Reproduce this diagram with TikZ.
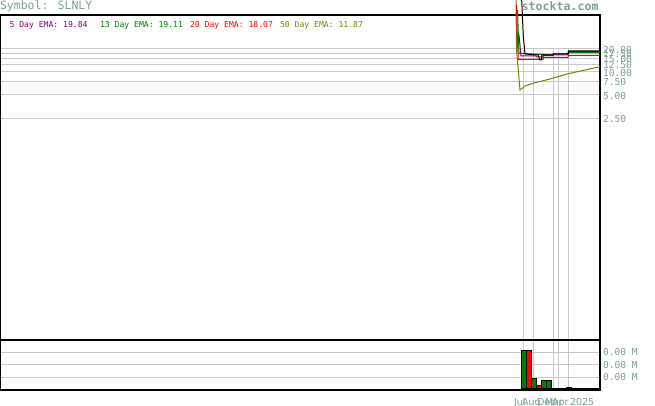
\documentclass[tikz,border=0pt]{standalone}
\usepackage{fontspec}
\newfontfamily\monof{DejaVu Sans Mono}
\newfontfamily\sansf{DejaVu Sans}
\definecolor{axisgray}{RGB}{128,160,144}
\definecolor{gridgray}{RGB}{200,200,200}
\definecolor{emapurple}{RGB}{128,0,128}
\definecolor{emagreen}{RGB}{0,128,0}
\definecolor{emared}{RGB}{255,0,0}
\definecolor{emaolive}{RGB}{128,128,0}
\tikzset{
  gridline/.style={draw=gridgray, line width=1pt},
  framebox/.style={draw=black, line width=1.2pt},
  txt/.style={anchor=base west, inner sep=0pt, outer sep=0pt},
  axislbl/.style={txt, text=axisgray, font=\monof\fontsize{9.6}{10}\selectfont},
  datelbl/.style={txt, text=axisgray, font=\sansf\fontsize{9.5}{10}\selectfont},
  legendlbl/.style={txt, font=\monof\fontsize{8.1}{9}\selectfont},
  series/.style={line width=1pt, line join=miter},
  gbar/.style={fill=emagreen, draw=black, line width=0.8pt},
  rbar/.style={fill=emared, draw=black, line width=0.8pt},
}
\begin{document}
\begin{tikzpicture}[x=1pt, y=-1pt]
\useasboundingbox (0,0) rectangle (655,406);
\fill[white] (0,0) rectangle (655,406);
% horizontal grid, price pane
\foreach \yy in {49,53.4,58.5,64.6,72,81.5,95,118.3}
  \draw[gridline] (0.5,\yy) -- (600,\yy);
% vertical grid
\foreach \xx in {523.3,533.3,553.3,558.3,568.3}{
  \draw[gridline] (\xx,49) -- (\xx,340);
  \draw[gridline] (\xx,340) -- (\xx,390);
}
% horizontal grid, volume pane
\foreach \yy in {352.3,364.7,377.3}
  \draw[gridline] (0.5,\yy) -- (600,\yy);
% volume bars
\draw[gbar] (521,390) rectangle (526,350);
\draw[rbar] (526,390) rectangle (531,350);
\draw[gbar] (531,390) rectangle (536,378.3);
\draw[rbar] (536,390) rectangle (541,385);
\draw[gbar] (541,390) rectangle (546,380);
\draw[gbar] (546,390) rectangle (551,380);
\draw[gbar] (551,390) rectangle (556,388.3);
\draw[gbar] (566,390) rectangle (571,387.3);
\draw[black, line width=2pt] (521,389.3) -- (600,389.3);
% frames
\draw[framebox] (0.6,15) -- (600,15) -- (600,390) -- (0.6,390) -- cycle;
\draw[framebox] (0.6,340) -- (600,340);
% EMA series
\draw[series, emaolive] (516,0) -- (516.5,50) -- (517,55) -- (520,90) -- (525,86) -- (533,83.3) -- (550,79) -- (567,74) -- (600,66.7);
\draw[series, emared] (516.5,5) -- (517.5,43) -- (518.3,59.5) -- (543,59.3) -- (543.5,57.3) -- (568,57.3) -- (568.5,55.3) -- (600,55.3);
\draw[series, emagreen] (517.5,10) -- (519,53.3) -- (553,55) -- (553.5,54) -- (568,54) -- (568.5,52.7) -- (600,52.7);
\draw[series, emapurple] (519,35) -- (521,56) -- (536,56) -- (536.5,57) -- (543,57) -- (543.5,55.7) -- (553,55.7) -- (553.5,55) -- (568,55) -- (568.5,51.7) -- (600,51.7);
\draw[series, black] (521.7,0) -- (523.3,36.7) -- (525,54) -- (538,55) -- (540,60) -- (541.5,60) -- (542,55) -- (553,55) -- (553.5,54) -- (568,54) -- (568.5,51) -- (600,51);
% texts
\node[txt, text=axisgray, font=\monof\fontsize{11.5}{12}\selectfont] (title) at (0,9.5) {Symbol: SLNLY};
\node[txt, text=axisgray, font=\monof\bfseries\fontsize{11.6}{12}\selectfont] (brand) at (521.7,10.5) {stockta.com};
\node[legendlbl, text=emapurple] (l5) at (9.5,27.3) {5 Day EMA: 19.84};
\node[legendlbl, text=emagreen] (l13) at (100,27.3) {13 Day EMA: 19.11};
\node[legendlbl, text=emared] (l20) at (190,27.3) {20 Day EMA: 18.07};
\node[legendlbl, text=emaolive] (l50) at (280,27.3) {50 Day EMA: 11.87};
% price axis labels
\node[axislbl] (p20) at (603,53.2) {20.00};
\node[axislbl] (p175) at (603,57.6) {17.50};
\node[axislbl] (p15) at (603,62.7) {15.00};
\node[axislbl] (p125) at (603,68.8) {12.50};
\node[axislbl] (p10) at (603,76.2) {10.00};
\node[axislbl] (p75) at (603,85.7) {7.50};
\node[axislbl] (p5) at (603,99.2) {5.00};
\node[axislbl] (p25) at (603,122.5) {2.50};
% volume axis labels
\node[axislbl] (v1) at (603,355.8) {0.00 M};
\node[axislbl] (v2) at (603,368.2) {0.00 M};
\node[axislbl] (v3) at (603,380.8) {0.00 M};
% date labels
\node[datelbl] (dJul) at (514,405) {Jul};
\node[datelbl] (dAug) at (522,405) {Aug};
\node[datelbl] (dDec) at (537,405) {Dec};
\node[datelbl] (dMar) at (545,405) {Mar};
\node[datelbl] (dApr) at (552,405) {Apr};
\node[datelbl] (d2025) at (570,405) {2025};
\end{tikzpicture}
\end{document}
